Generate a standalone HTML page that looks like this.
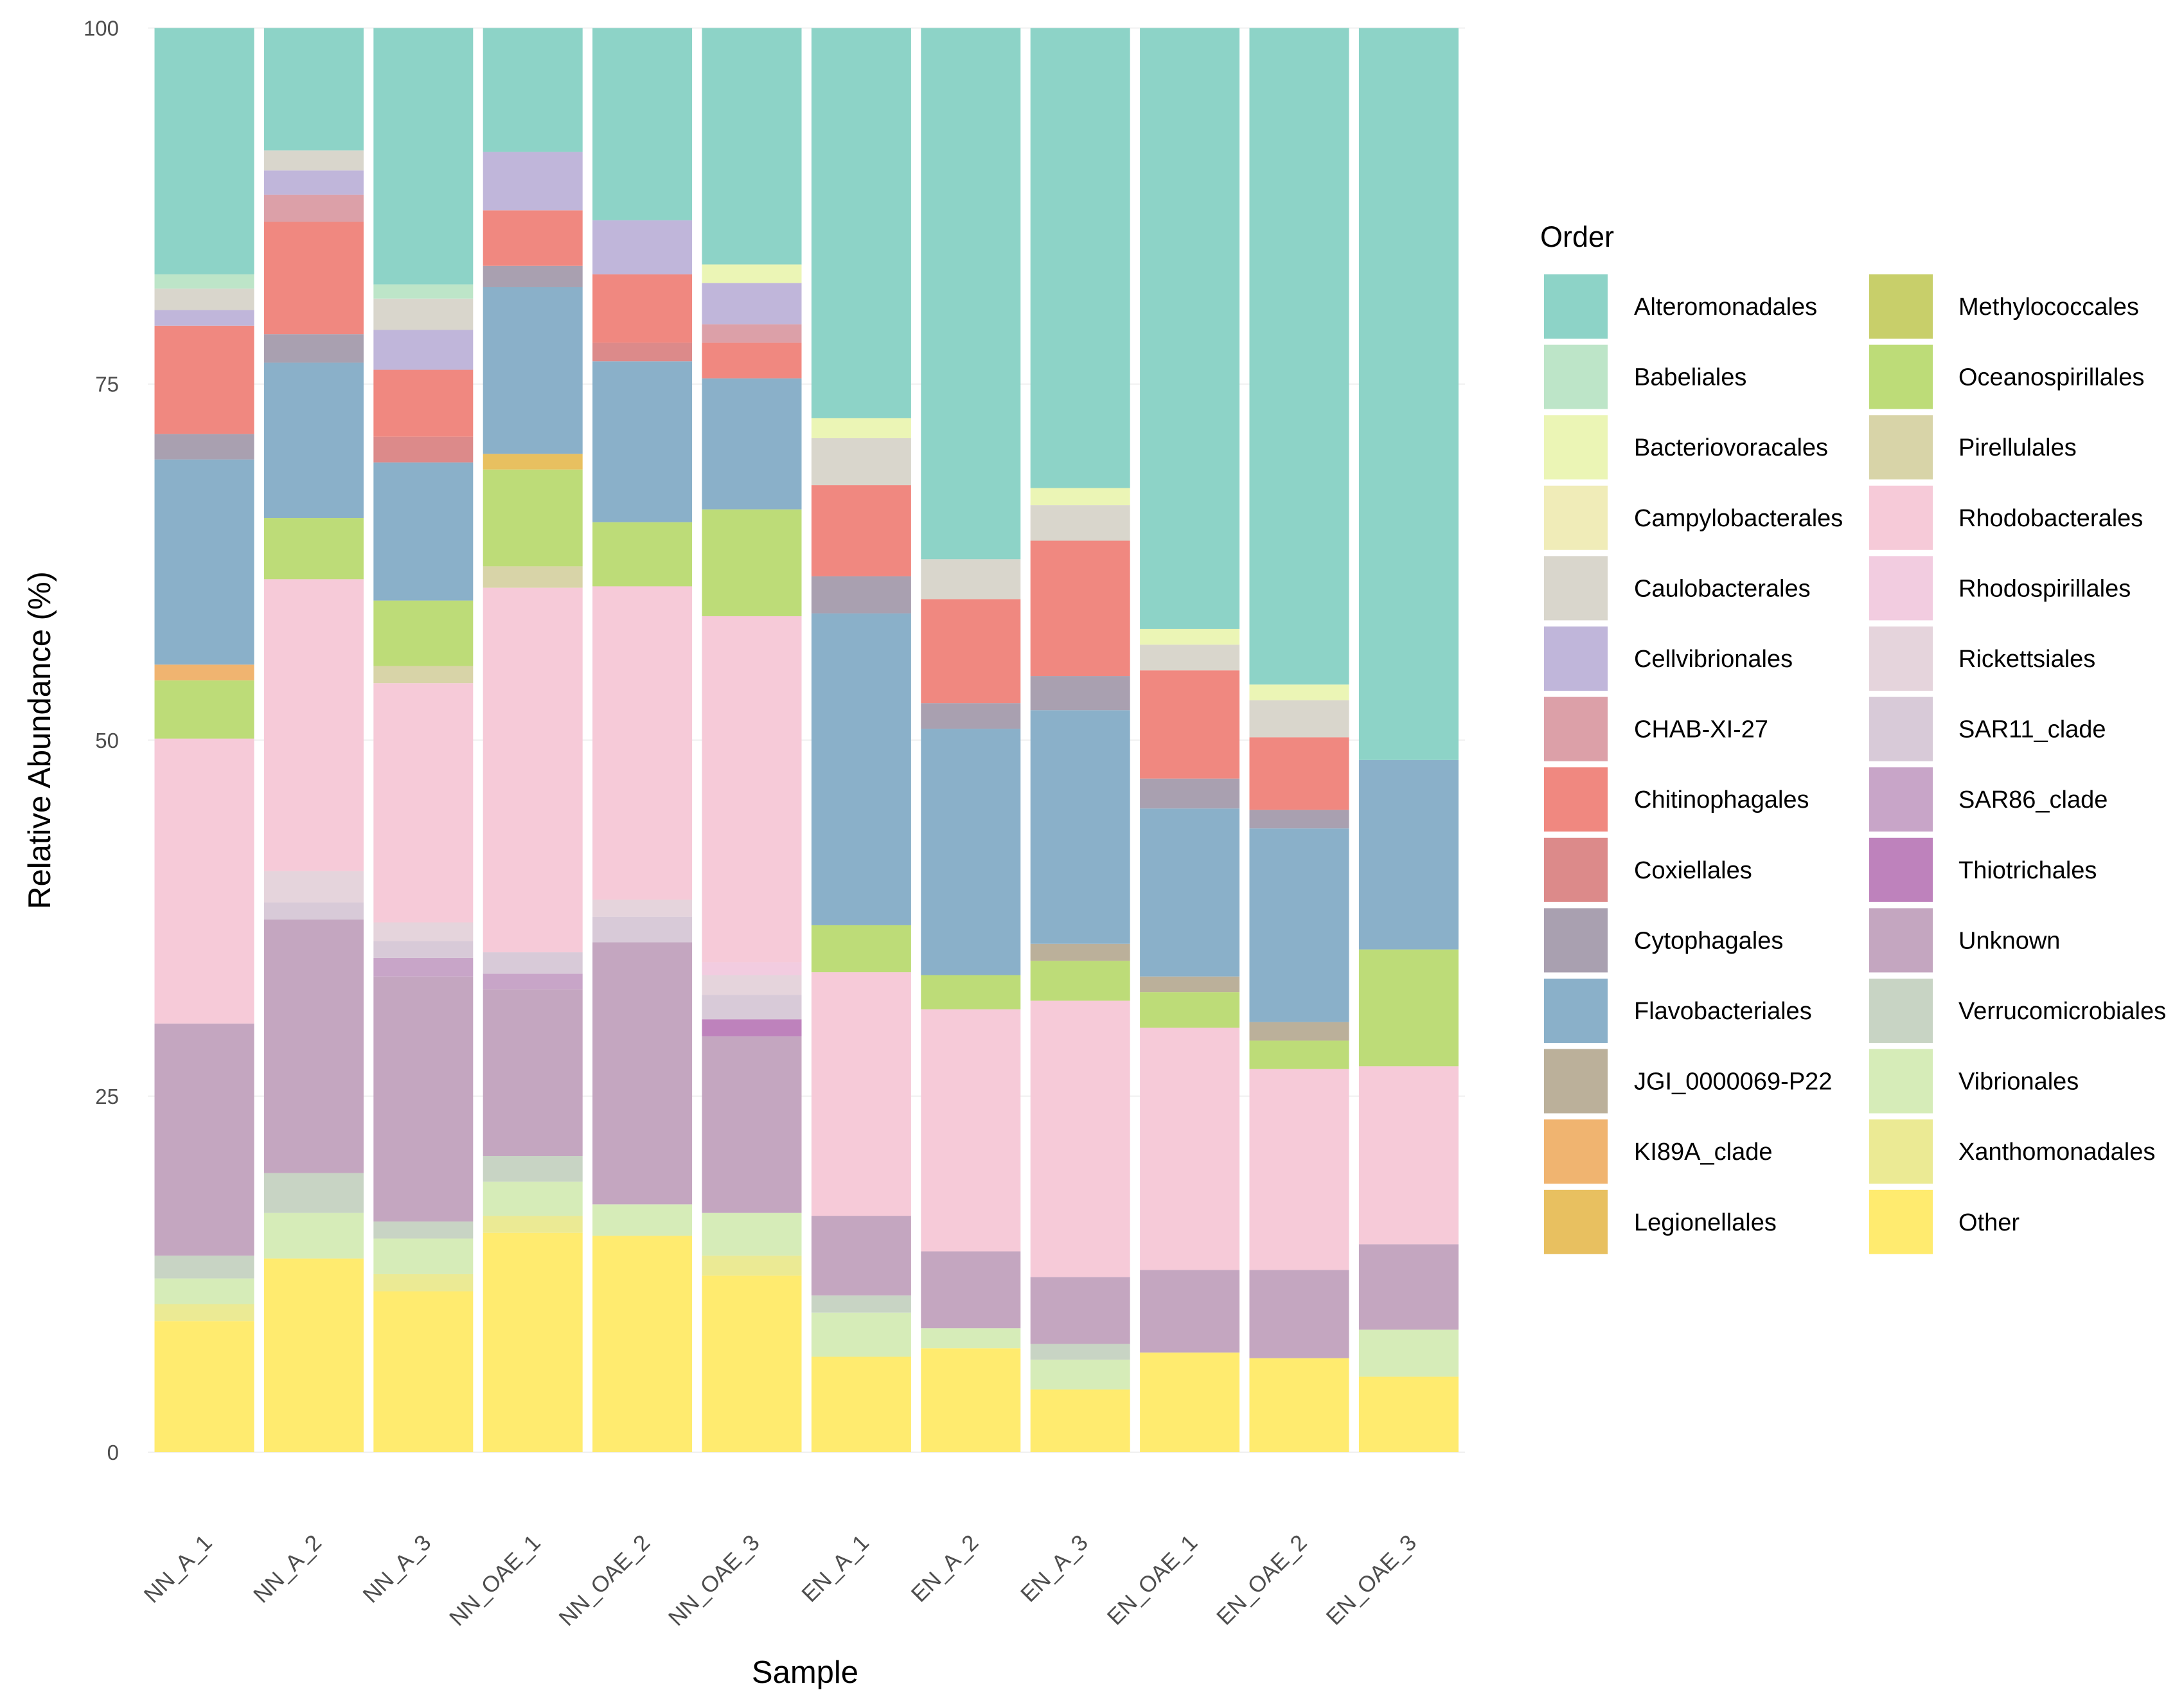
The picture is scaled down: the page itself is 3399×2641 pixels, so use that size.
<!DOCTYPE html>
<html><head><meta charset="utf-8">
<style>
html,body{margin:0;padding:0;background:#fff;}
svg{display:block;font-family:"Liberation Sans",sans-serif;}
</style></head>
<body>
<svg id="chart" width="3399" height="2641" viewBox="0 0 3399 2641" xmlns="http://www.w3.org/2000/svg">
<rect x="0" y="0" width="3399" height="2641" fill="#ffffff"/>
<defs><clipPath id="plotclip"><rect x="200" y="43.6" width="2100" height="2217"/></clipPath></defs>
<g id="grid"></g>
<g id="bars" clip-path="url(#plotclip)"></g>
<g id="yaxis"></g>
<g id="xaxis"></g>
<text x="78" y="1152" font-size="49" fill="#000" text-anchor="middle" transform="rotate(-90 78 1152)">Relative Abundance (%)</text>
<text x="1253" y="2619" font-size="49" fill="#000" text-anchor="middle">Sample</text>
<g id="legend">
<text x="2397" y="384" font-size="45" fill="#000">Order</text>
</g>
</svg>
<script>
const samples = ["NN_A_1","NN_A_2","NN_A_3","NN_OAE_1","NN_OAE_2","NN_OAE_3","EN_A_1","EN_A_2","EN_A_3","EN_OAE_1","EN_OAE_2","EN_OAE_3"];
const orders = ["Alteromonadales","Babeliales","Bacteriovoracales","Campylobacterales","Caulobacterales","Cellvibrionales","CHAB-XI-27","Chitinophagales","Coxiellales","Cytophagales","Flavobacteriales","JGI_0000069-P22","KI89A_clade","Legionellales","Methylococcales","Oceanospirillales","Pirellulales","Rhodobacterales","Rhodospirillales","Rickettsiales","SAR11_clade","SAR86_clade","Thiotrichales","Unknown","Verrucomicrobiales","Vibrionales","Xanthomonadales","Other"];
const colors = ["#8dd3c7","#bde5c8","#ebf5b5","#f0ecb8","#d9d6cc","#c0b6da","#dca0a8","#f08880","#dc8a8a","#a9a0b0","#8ab0c9","#bbb09a","#f0b470","#e8c060","#c8cf6a","#bddc78","#d8d4a8","#f6cad8","#f2cce0","#e5d4dc","#d8cad8","#c8a5c8","#be82bc","#c4a6c0","#c8d4c4","#d6ecb8","#ebea94","#ffeb6f"];
const nnA1 = [17.4,1.0,0,0,1.5,1.1,0,7.6,0,1.8,14.4,0,1.1,0,0,4.1,0,20.0,0,0,0,0,0,16.3,1.6,1.8,1.2,9.2];
const nnA2 = [8.7,0,0,0,1.4,1.7,1.9,7.9,0,2.0,10.9,0,0,0,0,4.3,0,20.5,0,2.2,1.2,0,0,17.8,2.8,3.2,0,13.6];
const nnA3 = [18.2,1.0,0,0,2.2,2.8,0,4.7,1.8,0,9.7,0,0,0,0,4.6,1.2,16.8,0,1.3,1.2,1.3,0,17.2,1.2,2.5,1.2,11.3];
const nnOAE1 = [8.9,0,0,0,0,4.1,0,3.9,0,1.5,11.7,0,0,1.1,0,6.8,1.5,25.6,0,0,1.5,1.1,0,11.7,1.8,2.4,1.2,15.4];
const nnOAE2 = [13.5,0,0,0,0,3.8,0,4.8,1.3,0,11.3,0,0,0,0,4.5,0,22.0,0,1.2,1.8,0,0,18.4,0,2.2,0,15.2];
const nnOAE3 = [16.7,0,1.3,0,0,2.9,1.3,2.5,0,0,9.2,0,0,0,0,7.5,0,24.3,0.9,1.4,1.7,0,1.2,12.4,0,3.0,1.4,12.4];
const enA1 = [27.4,0,1.4,0,3.3,0,0,6.4,0,2.6,21.9,0,0,0,0,3.3,0,17.1,0,0,0,0,0,5.6,1.2,3.1,0,6.7];
const enA2 = [37.5,0,0,0,2.8,0,0,7.3,0,1.8,17.3,0,0,0,0,2.4,0,17.0,0,0,0,0,0,5.4,0,1.4,0,7.3];
const enA3 = [32.3,0,1.2,0,2.5,0,0,9.5,0,2.4,16.4,1.2,0,0,0,2.8,0,19.4,0,0,0,0,0,4.7,1.1,2.1,0,4.4];
const enOAE1 = [42.4,0,1.1,0,1.8,0,0,7.6,0,2.1,11.8,1.1,0,0,0,2.5,0,17.0,0,0,0,0,0,5.8,0,0,0,7.0];
const enOAE2 = [46.3,0,1.1,0,2.6,0,0,5.1,0,1.3,13.6,1.3,0,0,0,2.0,0,14.1,0,0,0,0,0,6.2,0,0,0,6.6];
const enOAE3 = [51.4,0,0,0,0,0,0,0,0,0,13.3,0,0,0,0,8.2,0,12.5,0,0,0,0,0,6.0,0,3.3,0,5.3];
const yTicks = [0,25,50,75,100];
const sampleValues = [nnA1,nnA2,nnA3,nnOAE1,nnOAE2,nnOAE3,enA1,enA2,enA3,enOAE1,enOAE2,enOAE3];

const NS = "http://www.w3.org/2000/svg";
const Y0 = 2260, Y100 = 43.6;
function yScale(v){ return Y0 + (Y100 - Y0) * v / 100; }
const X0 = 318, STEP = 170.4, BW = 155;
function xScale(i){ return X0 + STEP * i; }
function mk(tag, attrs, parent){ const e = document.createElementNS(NS, tag); for (const k in attrs) e.setAttribute(k, attrs[k]); parent.appendChild(e); return e; }

const grid = document.getElementById('grid');
const bars = document.getElementById('bars');
const yaxis = document.getElementById('yaxis');
const xaxis = document.getElementById('xaxis');
const legend = document.getElementById('legend');

yTicks.forEach(t => {
  const l = mk('line', {x1: 230, x2: 2280, y1: yScale(t), y2: yScale(t), stroke: '#f0f0f0', 'stroke-width': 2}, grid);
  
  
  const tx = mk('text', {x: 185, y: yScale(t) + 12, 'font-size': 33, fill: '#4d4d4d', 'text-anchor': 'end'}, yaxis);
  tx.textContent = t;
  
  
});

samples.forEach((s, i) => {
  const vals = sampleValues[i];
  let cum = 0;
  for (let k = orders.length - 1; k >= 0; k--) {
    const v = vals[k];
    if (!v) continue;
    const yTop = yScale(cum + v), yBot = yScale(cum);
    const r = mk('rect', {x: xScale(i) - BW/2, y: yTop, width: BW, height: yBot - yTop, fill: colors[k]}, bars);
    
    
    cum += v;
  }
  const cx = xScale(i) + 14, cy = 2403;
  const tx = mk('text', {x: cx, y: cy, 'font-size': 35, fill: '#4d4d4d', 'text-anchor': 'end', transform: 'rotate(-45 ' + cx + ' ' + cy + ')'}, xaxis);
  tx.textContent = s;
  
  
});

orders.forEach((o, k) => {
  const col = k < 14 ? 0 : 1, row = k % 14;
  const kx = col === 0 ? 2403 : 2909, lx = col === 0 ? 2543 : 3048;
  const ky = 427 + row * 109.6;
  const r = mk('rect', {x: kx, y: ky, width: 99, height: 100, fill: colors[k]}, legend);
  
  
  const t = mk('text', {x: lx, y: ky + 63, 'font-size': 38, fill: '#000'}, legend);
  t.textContent = o;
  
  
});
</script>
</body></html>
